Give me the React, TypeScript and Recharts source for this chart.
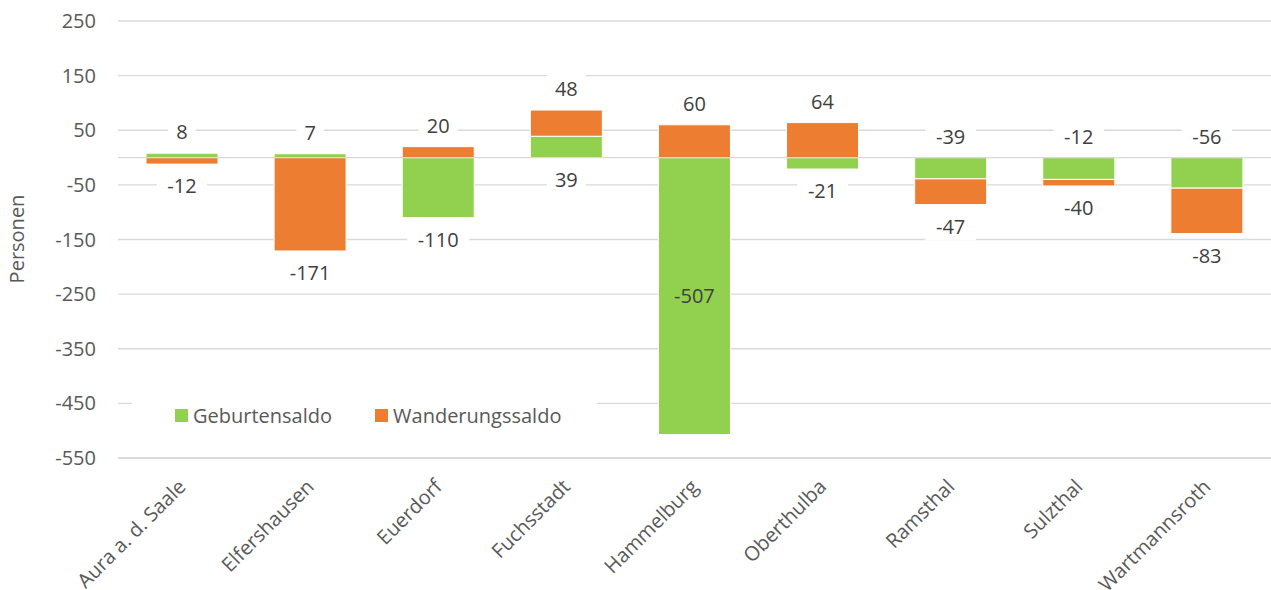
import React from 'react';
import { BarChart, Bar, XAxis, YAxis, CartesianGrid, ReferenceLine, LabelList, Legend, Label } from 'recharts';

const categories = ['Aura a. d. Saale', 'Elfershausen', 'Euerdorf', 'Fuchsstadt', 'Hammelburg', 'Oberthulba', 'Ramsthal', 'Sulzthal', 'Wartmannsroth'];
const geburten = [8, 7, -110, 39, -507, -21, -39, -40, -56];
const wanderung = [-12, -171, 20, 48, 60, 64, -47, -12, -83];
const geburtenLabels = ['8', '7', '-110', '39', '-507', '-21', '-39', '-12', '-56'];
const wanderungLabels = ['-12', '-171', '20', '48', '60', '64', '-47', '-40', '-83'];
const yTicks = [250, 150, 50, -50, -150, -250, -350, -450, -550];

const GREEN = '#92d050';
const ORANGE = '#ed7d31';
const FONT = '"Open Sans", sans-serif';

const data = categories.map((name, i) => ({ name, geburten: geburten[i], wanderung: wanderung[i] }));

const makeLabel = (series: 'g' | 'w') => (props: any) => {
  const { x, y, width, height, index } = props;
  if (index == null) return null;
  const top = Math.min(y, y + height);
  const bottom = Math.max(y, y + height);
  const upper = series === 'g' ? wanderung[index] < 0 : wanderung[index] > 0;
  const text = series === 'g' ? geburtenLabels[index] : wanderungLabels[index];
  let cy: number;
  let inside = false;
  if (upper) cy = top - 21;
  else if (bottom - top > 200) {
    cy = (top + bottom) / 2;
    inside = true;
  } else cy = bottom + 22;
  const cx = x + width / 2;
  const w = text.length * 11.5 + 16;
  return (
    <g>
      {!inside && <rect x={cx - w / 2} y={cy - 14} width={w} height={28} fill="#ffffff" />}
      <text x={cx} y={cy} dy="0.36em" textAnchor="middle" fill="#404040" fontSize={20} fontFamily={FONT}>
        {text}
      </text>
    </g>
  );
};

const XTick = (props: any) => {
  const { x, y, payload } = props;
  const px = x + 5;
  const py = y + 22;
  return (
    <text x={px} y={py} transform={`rotate(-45 ${px} ${py})`} textAnchor="end" fill="#595959" fontSize={20} fontFamily={FONT}>
      {payload.value}
    </text>
  );
};

const LegendContent = () => (
  <div style={{ display: 'flex', alignItems: 'center', background: '#fff', height: 32, fontFamily: FONT, fontSize: 20, color: '#595959', paddingLeft: 43 }}>
    <span style={{ display: 'inline-block', width: 13, height: 13, background: GREEN, marginRight: 5 }} />
    <span style={{ marginRight: 43 }}>Geburtensaldo</span>
    <span style={{ display: 'inline-block', width: 13, height: 13, background: ORANGE, marginRight: 5 }} />
    <span>Wanderungssaldo</span>
  </div>
);

export default function App() {
  return (
    <div style={{ position: 'absolute', left: 0, top: 0, width: 1271, height: 590, background: '#fff' }}>
      <BarChart width={1271} height={590} data={data} stackOffset="sign" margin={{ top: 21, right: 0, left: 0, bottom: 0 }}>
        <CartesianGrid vertical={false} stroke="#d9d9d9" strokeWidth={1.3} />
        <XAxis dataKey="name" interval={0} height={132} tickLine={false} axisLine={{ stroke: '#d9d9d9', strokeWidth: 1.3 }} tick={<XTick />} />
        <YAxis
          domain={[-550, 250]}
          ticks={yTicks}
          width={118}
          tickLine={false}
          axisLine={false}
          tickSize={0}
          tickMargin={22}
          tick={{ fill: '#595959', fontSize: 20, fontFamily: FONT }}
          allowDataOverflow
        >
          <Label
            content={() => (
              <text x={17} y={239} transform="rotate(-90 17 239)" textAnchor="middle" dy="0.36em" fill="#595959" fontSize={20} fontFamily={FONT}>
                Personen
              </text>
            )}
          />
        </YAxis>
        <Legend
          verticalAlign="middle"
          align="center"
          layout="horizontal"
          content={<LegendContent />}
          wrapperStyle={{ left: 132, top: 399, width: 465, height: 32 }}
        />
        <Bar dataKey="geburten" name="Geburtensaldo" stackId="a" fill={GREEN} stroke="#ffffff" strokeWidth={1} barSize={72} isAnimationActive={false}>
          <LabelList dataKey="geburten" content={makeLabel('g')} />
        </Bar>
        <Bar dataKey="wanderung" name="Wanderungssaldo" stackId="a" fill={ORANGE} stroke="#ffffff" strokeWidth={1} barSize={72} isAnimationActive={false}>
          <LabelList dataKey="wanderung" content={makeLabel('w')} />
        </Bar>
        <ReferenceLine y={0} stroke="#d9d9d9" strokeWidth={1.3} />
      </BarChart>
    </div>
  );
}
